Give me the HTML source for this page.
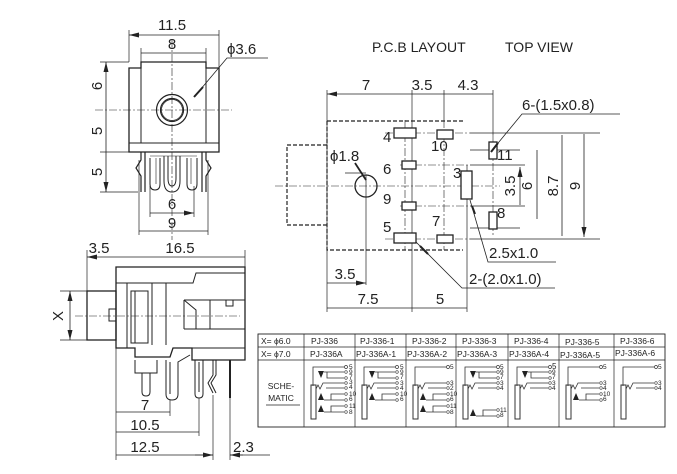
<!DOCTYPE html>
<html><head><meta charset="utf-8"><style>
html,body{margin:0;padding:0;background:#fff}
svg{display:block}
text{font-family:"Liberation Sans",sans-serif;fill:#222}
</style></head><body>
<svg width="677" height="474" viewBox="0 0 677 474" xmlns="http://www.w3.org/2000/svg">
<defs>
<marker id="a" viewBox="0 0 12 6" refX="12" refY="3" markerWidth="12" markerHeight="5" orient="auto-start-reverse" markerUnits="userSpaceOnUse"><path d="M0 0L12 3L0 6z" fill="#222"/></marker>
<g id="top"><path d="M9 26V7H40" fill="none" stroke="#333" stroke-width="0.8"/><circle cx="42" cy="7" r="1.5" fill="#fff" stroke="#333" stroke-width="0.7"/></g>
<g id="nc"><polygon points="14,11 20,11 17,18" fill="#222"/><path d="M20 12H40M23 12V18H40" fill="none" stroke="#333" stroke-width="0.8"/><circle cx="42" cy="12" r="1.3" fill="#fff" stroke="#333" stroke-width="0.6"/><circle cx="42" cy="18" r="1.3" fill="#fff" stroke="#333" stroke-width="0.6"/></g>
<g id="sp"><path d="M12 29L14 25L16 29L19 23H40M22 28H40" fill="none" stroke="#333" stroke-width="0.8"/><circle cx="42" cy="23" r="1.3" fill="#fff" stroke="#333" stroke-width="0.6"/><circle cx="42" cy="28" r="1.3" fill="#fff" stroke="#333" stroke-width="0.6"/></g>
<g id="lo"><polygon points="14,40 20,40 17,33" fill="#222"/><path d="M20 40H27V34H40M27 40H40" fill="none" stroke="#333" stroke-width="0.8"/><circle cx="42" cy="34" r="1.3" fill="#fff" stroke="#333" stroke-width="0.6"/><circle cx="42" cy="40" r="1.3" fill="#fff" stroke="#333" stroke-width="0.6"/></g>
<g id="bar"><rect x="7" y="25" width="5" height="34" fill="#fff" stroke="#333" stroke-width="1"/></g>
</defs>

<g stroke="#222" fill="none" stroke-width="1">
<!-- FRONT VIEW -->
<path d="M141 62H206V68H219V152H129V68H141Z" stroke-width="1.3"/>
<path d="M141 68V143M206 68V143M129 143H219" />
<circle cx="172" cy="110" r="15.5" stroke-width="1.2"/>
<circle cx="172" cy="110" r="11.5" stroke-width="1.2"/>
<circle cx="172" cy="110" r="10.5" stroke-width="0.7"/>
<path d="M172 40V240M95 110H232" stroke-width="0.6" stroke-dasharray="8 2 2 2"/>
<path d="M141 152V160L136 168L141 176V192M145 152V192M206 152V160L211 168L206 176V192M202 152V192" stroke-width="1.2"/>
<path d="M150 158V184Q150 190 155 190Q160 190 160 184V158M187 158V184Q187 190 192 190Q197 190 197 184V158"/>
<path d="M164 156V181Q164 192 172 192Q180 192 180 181V156M168 156V178Q168 186 172 186Q176 186 176 178V156"/>
<path d="M156 158V184M191 158V184M150 156H197" stroke-width="0.6"/>
<path d="M129 62V30M219 68V30M141 62V48M206 62V48M139 160V235M208 160V235M150 186V217M194 186V217" stroke-width="0.7"/>
<path d="M129 35H219M141 53H206M139 231H208M150 213H194" stroke-width="0.8" marker-start="url(#a)" marker-end="url(#a)"/>
<path d="M100 62H129M100 152H129M100 192H138" stroke-width="0.7"/>
<path d="M106 62V110M106 110V152M106 152V192" stroke-width="0.8" marker-start="url(#a)" marker-end="url(#a)"/>
<path d="M268 58H227L195 96" stroke-width="0.8"/>
<path d="M203 87L194 97" stroke-width="2"/>

<!-- PCB -->
<path d="M327 121H463M327 121V250H463M327 145H287V225H327" stroke-dasharray="4 2" stroke-width="1.2"/>
<path d="M275 186H500M405 120V250M444 120V250M493 135V235M385 133H470M400 165H470M400 206H470M385 239H470" stroke-width="0.6" stroke-dasharray="8 2 2 2"/>
<path d="M327 90V312M412 90V312M444 90V120M493 90V135M467 165V312M366 175V285" stroke-width="0.7"/>
<path d="M470 133H600M470 239H600M470 150H520M470 228H520M470 165H525M470 206H525M345 173H366" stroke-width="0.7"/>
<path d="M327 94H412M412 94H444M444 94H493M327 308H412M412 308H467M327 283H366" stroke-width="0.8" marker-start="url(#a)" marker-end="url(#a)"/>
<path d="M520 167V205M537 150V219M562 135V236M584 134V237" stroke-width="0.8" marker-start="url(#a)" marker-end="url(#a)"/>
<circle cx="366" cy="186" r="11" stroke-width="1.3"/>
<path d="M355 163L366 180" stroke-width="1.8"/>
<g fill="#fff" stroke-width="1.3">
<rect x="394" y="128" width="22" height="10"/><rect x="437" y="130" width="16" height="9"/>
<rect x="402" y="161" width="14" height="8"/><rect x="402" y="202" width="14" height="8"/>
<rect x="394" y="233" width="22" height="10"/><rect x="437" y="235" width="16" height="8"/>
<rect x="489" y="142" width="8" height="17"/><rect x="489" y="212" width="8" height="17"/>
<rect x="461" y="171" width="11" height="28"/>
</g>
<path d="M620 114H522L494 148M556 262H488L470 200M555 288H462L416 242" stroke-width="0.8"/>
<path d="M498 143L491 152M472 206L475 214M420 246L428 254" stroke-width="2"/>

<!-- SIDE VIEW -->
<path d="M116 267H245V360H192V348H173L170 357H135V348H116Z" stroke-width="1.3"/>
<path d="M116 283H193L196 273H245M127 283V348M152 283V345M166 283V345M116 348H135M192 348H245" />
<rect x="131" y="291" width="17" height="52"/>
<path d="M135 291V343"/>
<path d="M184 300H245M184 329H245M184 300V329M210 300V329M184 300L196 310V329M226 300V306H233V300"/>
<rect x="87" y="291" width="29" height="49" stroke-width="1.3"/>
<rect x="109" y="309" width="7" height="12"/>
<path d="M75 316H240" stroke-width="0.6" stroke-dasharray="8 2 2 2"/>
<path d="M135 360V373H157V360M142 373V392Q142 396 146 396Q150 396 150 392V373"/>
<path d="M166 360V394Q166 400 172 400Q178 400 178 394V362L190 355M170 362V394"/>
<path d="M195 360V394Q195 398 199 398Q203 398 203 394V360M199 362V392"/>
<path d="M213 360V375L208 383L213 393M216 360V375L211 383L216 393"/>
<path d="M230 360V398" stroke-width="2"/>
<path d="M87 291V250M116 267V460M245 267V250M60 291H87M60 340H87M170 400V416M199 398V436M213 395V460M230 398V460" stroke-width="0.7"/>
<path d="M87 257H116M116 257H245M116 412H170M116 432H199M116 455H213" stroke-width="0.8" marker-start="url(#a)" marker-end="url(#a)"/>
<path d="M70 291V340" stroke-width="0.8" marker-start="url(#a)" marker-end="url(#a)"/>
<path d="M230 455H270M195 455H213" stroke-width="0.8"/>
<path d="M243 455L230 455" stroke-width="0.8" marker-end="url(#a)"/>

<!-- TABLE -->
<rect x="258" y="334" width="407" height="93" stroke-width="0.9"/>
<path d="M258 347H665M258 360H665M304 334V427M355 334V427M406 334V427M456 334V427M508 334V427M559 334V427M614 334V427" stroke-width="0.7"/>
<path d="M266 405H300" stroke-width="0.8"/>
</g>

<g font-size="15">
<text x="172" y="30" text-anchor="middle">11.5</text>
<text x="172" y="49" text-anchor="middle">8</text>
<text x="227" y="54">ϕ3.6</text>
<text x="172" y="209" text-anchor="middle">6</text>
<text x="172" y="228" text-anchor="middle">9</text>
<text transform="translate(102 86) rotate(-90)" text-anchor="middle">6</text>
<text transform="translate(102 131) rotate(-90)" text-anchor="middle">5</text>
<text transform="translate(102 172) rotate(-90)" text-anchor="middle">5</text>
<text x="372" y="52" font-size="14">P.C.B LAYOUT</text>
<text x="505" y="52" font-size="14">TOP VIEW</text>
<text x="366" y="90" text-anchor="middle">7</text>
<text x="422" y="90" text-anchor="middle">3.5</text>
<text x="468" y="90" text-anchor="middle">4.3</text>
<text x="522" y="110">6-(1.5x0.8)</text>
<text x="330" y="161">ϕ1.8</text>
<text x="383" y="142">4</text>
<text x="431" y="151">10</text>
<text x="383" y="174">6</text>
<text x="453" y="178">3</text>
<text x="383" y="204">9</text>
<text x="383" y="232">5</text>
<text x="432" y="226">7</text>
<text x="497" y="160">11</text>
<text x="497" y="218">8</text>
<text transform="translate(515 186) rotate(-90)" text-anchor="middle">3.5</text>
<text transform="translate(532 186) rotate(-90)" text-anchor="middle">6</text>
<text transform="translate(558 186) rotate(-90)" text-anchor="middle">8.7</text>
<text transform="translate(580 186) rotate(-90)" text-anchor="middle">9</text>
<text x="489" y="258">2.5x1.0</text>
<text x="469" y="284">2-(2.0x1.0)</text>
<text x="345" y="279" text-anchor="middle">3.5</text>
<text x="368" y="304" text-anchor="middle">7.5</text>
<text x="440" y="304" text-anchor="middle">5</text>
<text x="99" y="253" text-anchor="middle">3.5</text>
<text x="180" y="253" text-anchor="middle">16.5</text>
<text transform="translate(63 316) rotate(-90)" text-anchor="middle">X</text>
<text x="145" y="410" text-anchor="middle">7</text>
<text x="145" y="430" text-anchor="middle">10.5</text>
<text x="145" y="452" text-anchor="middle">12.5</text>
<text x="233" y="452">2.3</text>
</g>

<g font-size="8.5" fill="#333">
<text x="261" y="344">X= ϕ6.0</text><text x="261" y="357">X= ϕ7.0</text>
<text x="311" y="344">PJ-336</text><text x="310" y="357">PJ-336A</text>
<text x="360" y="344">PJ-336-1</text><text x="356" y="357">PJ-336A-1</text>
<text x="412" y="344">PJ-336-2</text><text x="407" y="357">PJ-336A-2</text>
<text x="462" y="344">PJ-336-3</text><text x="457" y="357">PJ-336A-3</text>
<text x="514" y="344">PJ-336-4</text><text x="509" y="357">PJ-336A-4</text>
<text x="565" y="345">PJ-336-5</text><text x="560" y="358">PJ-336A-5</text>
<text x="620" y="344">PJ-336-6</text><text x="615" y="356">PJ-336A-6</text>
<text x="281" y="389" text-anchor="middle">SCHE-</text>
<text x="281" y="401" text-anchor="middle">MATIC</text>
</g>

<g transform="translate(304 360)"><use href="#bar"/><use href="#top"/><use href="#nc"/><use href="#sp"/><use href="#lo"/><use href="#lo" transform="translate(0 12)"/></g>
<g transform="translate(355 360)"><use href="#bar"/><use href="#top"/><use href="#nc"/><use href="#sp"/><use href="#lo"/></g>
<g transform="translate(406 360)"><use href="#bar"/><use href="#top"/><use href="#sp"/><use href="#lo"/><use href="#lo" transform="translate(0 12)"/></g>
<g transform="translate(456 360)"><use href="#bar"/><use href="#top"/><use href="#nc"/><use href="#sp"/><use href="#lo" transform="translate(0 16)"/></g>
<g transform="translate(508 360)"><use href="#bar"/><use href="#top"/><use href="#nc"/><use href="#sp"/></g>
<g transform="translate(559 360)"><use href="#bar"/><use href="#top"/><use href="#sp"/><use href="#lo"/></g>
<g transform="translate(614 360)"><use href="#bar"/><use href="#top"/><use href="#sp"/></g>

<g font-size="6.5" fill="#333">
<text x="349" y="369">5</text><text x="349" y="374">9</text><text x="349" y="379">7</text><text x="349" y="384">3</text><text x="349" y="389">4</text><text x="349" y="396">10</text><text x="349" y="401">6</text><text x="349" y="408">11</text><text x="349" y="414">8</text>
<text x="400" y="369">5</text><text x="400" y="374">9</text><text x="400" y="379">7</text><text x="400" y="385">3</text><text x="400" y="390">4</text><text x="400" y="396">10</text><text x="400" y="401">6</text>
<text x="450" y="369">5</text><text x="450" y="385">3</text><text x="450" y="390">2</text><text x="450" y="396">10</text><text x="450" y="401">6</text><text x="450" y="408">11</text><text x="450" y="414">8</text>
<text x="500" y="369">5</text><text x="500" y="374">9</text><text x="500" y="379">7</text><text x="500" y="385">3</text><text x="500" y="390">4</text><text x="500" y="412">11</text><text x="500" y="417">8</text>
<text x="552" y="369" font-size="8">5</text><text x="552" y="374">9</text><text x="552" y="379">7</text><text x="552" y="385">3</text><text x="552" y="390">4</text>
<text x="603" y="369">5</text><text x="603" y="385">3</text><text x="603" y="390">4</text><text x="603" y="396">10</text><text x="603" y="401">6</text>
<text x="658" y="369">5</text><text x="658" y="385">3</text><text x="658" y="390">4</text>
</g>
</svg>
</body></html>
